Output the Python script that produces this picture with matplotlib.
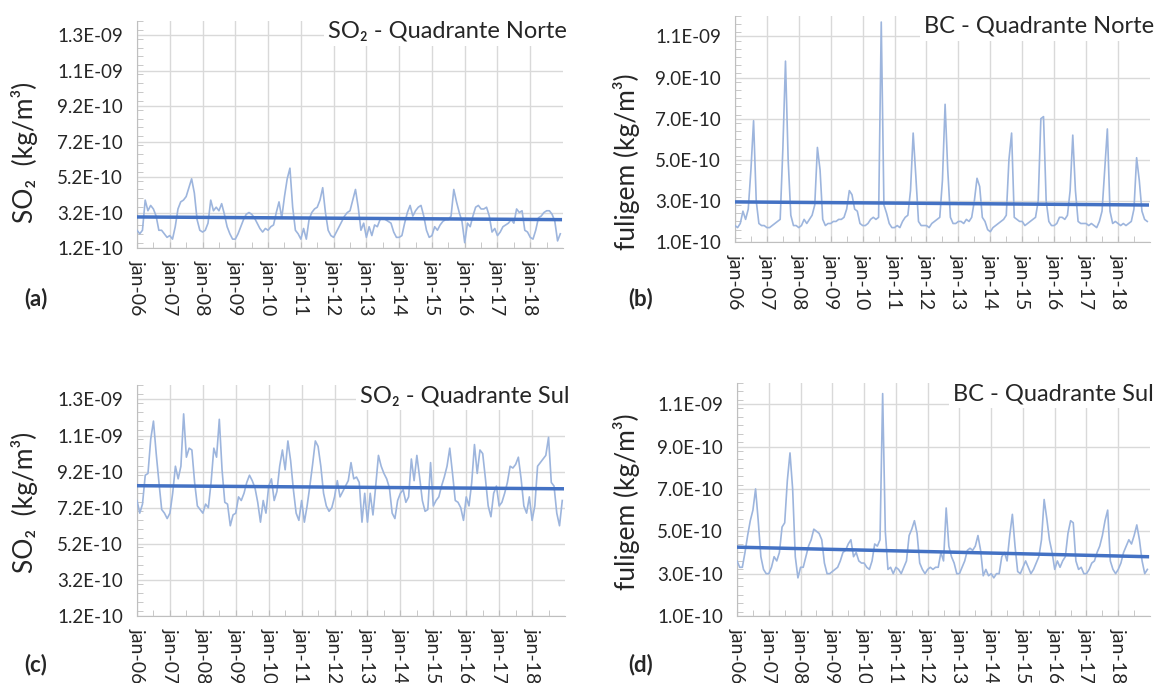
import numpy as np
from matplotlib import pyplot as plt
from matplotlib.ticker import FixedLocator, MultipleLocator, FuncFormatter

plt.rcParams['font.family'] = ['Lato', 'DejaVu Sans']

# monthly values, jan-06 .. dec-18, in units of 1e-10 kg/m3
so2_norte = [
    2.2, 2.0, 2.2, 3.9, 3.3, 3.6, 3.4, 3.0, 2.2, 2.2, 2.0, 1.8,
    1.9, 1.7, 2.4, 3.4, 3.8, 3.9, 4.1, 4.6, 5.1, 4.3, 2.8, 2.2,
    2.1, 2.2, 2.6, 3.9, 3.3, 3.5, 3.3, 3.7, 3.1, 2.4, 2.0, 1.7,
    1.7, 2.0, 2.4, 2.8, 3.1, 3.2, 3.1, 2.9, 2.6, 2.3, 2.1, 2.3,
    2.2, 2.4, 2.5, 3.2, 3.8, 2.9, 4.1, 5.1, 5.7, 3.5, 2.2, 2.0,
    1.7, 2.3, 1.7, 2.8, 3.2, 3.4, 3.5, 3.9, 4.6, 3.2, 2.2, 1.9,
    1.8, 2.1, 2.4, 2.7, 3.0, 3.2, 3.3, 3.9, 4.5, 3.5, 2.2, 2.6,
    1.8, 2.4, 1.9, 2.5, 2.4, 2.8, 2.9, 2.8, 2.7, 2.6, 2.1, 1.8,
    1.8, 1.9, 2.6, 3.2, 3.6, 3.0, 3.3, 3.5, 3.6, 3.0, 2.2, 1.8,
    1.9, 2.4, 2.2, 2.5, 2.7, 2.8, 2.8, 3.0, 4.5, 3.8, 3.2, 2.7,
    1.5, 2.6, 2.4, 3.0, 3.5, 3.6, 3.4, 3.4, 3.5, 3.0, 2.1, 2.3,
    1.9, 2.1, 2.4, 2.5, 2.6, 2.8, 2.6, 3.4, 3.2, 3.3, 2.2, 2.1,
    1.8, 1.7, 2.2, 2.9, 3.0, 3.2, 3.3, 3.3, 3.1, 2.7, 1.6, 2.0,
]
bc_norte = [
    1.8, 1.7, 1.9, 2.5, 2.1, 2.6, 4.5, 6.9, 3.0, 1.9, 1.8, 1.8,
    1.7, 1.7, 1.8, 1.9, 2.0, 2.1, 5.5, 9.8, 5.0, 2.3, 1.8, 1.8,
    1.7, 1.8, 2.1, 1.9, 2.1, 2.3, 2.8, 5.6, 4.5, 2.1, 1.8, 1.9,
    1.9, 2.0, 2.0, 2.1, 2.1, 2.2, 2.6, 3.5, 3.3, 2.6, 2.5, 1.9,
    1.8, 1.8, 1.9, 2.1, 2.2, 2.1, 2.2, 11.7, 2.8, 2.4, 1.9, 1.7,
    1.7, 1.8, 1.7, 2.0, 2.2, 2.3, 3.5, 6.3, 4.2, 2.0, 1.8, 1.8,
    1.8, 1.7, 1.9, 2.0, 2.1, 2.2, 4.0, 7.7, 4.5, 2.2, 1.9, 1.9,
    2.0, 2.0, 1.9, 2.1, 2.0, 2.2, 3.0, 4.1, 3.7, 2.2, 2.0, 1.6,
    1.5, 1.7, 1.8, 1.9, 2.0, 2.1, 2.3, 5.0, 6.3, 2.2, 2.1, 2.0,
    2.0, 1.8, 1.9, 2.0, 2.1, 2.2, 3.0, 7.0, 7.1, 3.0, 2.0, 1.8,
    1.8, 1.9, 2.2, 2.2, 2.1, 2.3, 3.5, 6.2, 3.5, 2.0, 1.9, 1.9,
    1.9, 1.8, 1.9, 1.8, 1.7, 2.0, 2.5, 4.5, 6.5, 2.5, 1.9, 2.0,
    1.9, 1.8, 1.9, 1.8, 1.9, 2.0, 2.6, 5.1, 4.0, 2.5, 2.1, 2.0,
]
so2_sul = [
    7.6, 6.9, 7.4, 9.0, 9.1, 11.0, 12.0, 10.2, 8.6, 7.1, 6.9, 6.6,
    6.9, 8.0, 9.5, 8.8, 9.5, 12.4, 10.0, 10.5, 10.4, 8.6, 7.3, 7.1,
    6.9, 7.4, 7.2, 8.6, 10.5, 10.0, 12.1, 9.3, 7.5, 7.4, 6.2, 6.8,
    6.9, 7.8, 7.6, 8.0, 8.6, 9.0, 8.7, 8.3, 7.5, 6.4, 7.6, 6.9,
    8.4, 8.8, 7.6, 8.1, 9.5, 10.4, 9.3, 10.9, 9.8, 8.2, 6.9, 6.5,
    7.6, 6.4, 7.3, 8.4, 9.6, 10.9, 10.6, 9.5, 8.0, 7.3, 7.0, 7.2,
    7.8, 8.7, 7.8, 8.1, 8.4, 8.7, 9.7, 8.8, 8.9, 8.6, 6.4, 8.0,
    6.4, 8.0, 6.8, 8.4, 10.1, 9.5, 9.1, 8.8, 8.3, 6.9, 6.6, 7.6,
    8.0, 8.2, 7.5, 7.8, 9.9, 8.7, 10.1, 8.9, 7.6, 7.0, 7.1, 9.7,
    7.3, 7.6, 7.8, 8.4, 8.9, 9.5, 10.5, 9.1, 7.6, 7.5, 7.2, 6.5,
    7.8, 7.3, 8.6, 10.7, 9.1, 10.4, 10.2, 8.8, 7.3, 6.7, 8.0, 8.4,
    7.3, 7.5, 8.0, 8.6, 9.5, 9.4, 9.6, 10.0, 8.8, 7.3, 6.9, 7.8,
    6.5, 7.3, 9.5, 9.7, 9.9, 10.1, 11.1, 8.6, 8.4, 6.9, 6.2, 7.6,
]
bc_sul = [
    3.6, 3.3, 3.3, 4.0, 4.8, 5.5, 6.0, 7.0, 5.5, 3.8, 3.2, 3.0,
    3.0, 3.3, 3.8, 3.6, 4.0, 5.2, 5.4, 7.4, 8.7, 7.0, 3.8, 2.8,
    3.3, 3.3, 3.8, 4.3, 4.6, 5.1, 5.0, 4.9, 4.6, 3.5, 3.0, 3.0,
    3.1, 3.2, 3.3, 3.6, 4.0, 4.1, 4.4, 4.6, 3.8, 4.0, 3.6, 3.5,
    3.5, 3.3, 3.2, 3.6, 4.4, 4.3, 4.6, 11.5, 5.0, 3.2, 3.3, 3.0,
    3.3, 3.2, 3.0, 3.3, 3.6, 4.8, 5.1, 5.5, 4.9, 3.5, 3.2, 3.0,
    3.2, 3.3, 3.2, 3.3, 3.3, 4.0, 3.6, 6.1, 4.3, 3.8, 3.5, 3.0,
    3.0, 3.3, 3.6, 4.1, 4.2, 4.1, 4.3, 4.8, 4.1, 2.9, 3.2, 2.9,
    3.0, 2.8, 3.0, 3.0, 3.8, 4.0, 3.6, 4.8, 5.8, 4.3, 3.1, 3.0,
    3.3, 3.6, 3.3, 3.0, 3.2, 3.5, 3.8, 4.6, 6.5, 5.6, 4.6, 4.0,
    3.2, 3.6, 3.3, 3.6, 3.8, 4.9, 5.5, 5.4, 3.6, 3.2, 3.3, 3.0,
    3.0, 3.2, 3.5, 3.6, 4.0, 4.3, 4.8, 5.5, 6.0, 3.6, 3.2, 3.0,
    3.2, 3.5, 4.0, 4.3, 4.6, 4.4, 4.8, 5.3, 4.6, 3.6, 3.0, 3.2,
]

# linear trend lines (start, end), same units
trend_so2_norte = [2.95, 2.80]
trend_bc_norte = [2.95, 2.80]
trend_so2_sul = [8.42, 8.25]
trend_bc_sul = [4.25, 3.80]

year_labels = ['jan-06', 'jan-07', 'jan-08', 'jan-09', 'jan-10', 'jan-11', 'jan-12',
               'jan-13', 'jan-14', 'jan-15', 'jan-16', 'jan-17', 'jan-18']

SCALE = 1e-10
LINE_COLOR = '#9DB5DD'
TREND_COLOR = '#4472C4'
GRID_COLOR = '#D9D9D9'
TEXT_COLOR = '#262626'


def sci_label(v, pos):
    return f'{v:.1E}'


def draw_panel(ax, values, trend, ymin, ymax, minor, title):
    values = np.array(values) * SCALE
    months = np.arange(len(values))
    ax.plot(months, values, color=LINE_COLOR, lw=1.2, zorder=3)
    ax.plot([months[0], months[-1]], np.array(trend) * SCALE, color=TREND_COLOR, lw=2.5, zorder=4)

    ax.set_xlim(0, len(values))
    ax.set_ylim(ymin, ymax)
    ax.xaxis.set_major_locator(FixedLocator(np.arange(0, len(values), 12)))
    ax.xaxis.set_minor_locator(FixedLocator(np.arange(6, len(values), 12)))
    ax.set_xticklabels(year_labels, rotation=270, fontsize=14, color=TEXT_COLOR)

    ax.yaxis.set_major_locator(FixedLocator(np.arange(ymin, ymax, 2 * SCALE)))
    ax.yaxis.set_minor_locator(MultipleLocator(minor))
    ax.yaxis.set_major_formatter(FuncFormatter(sci_label))
    ax.tick_params(axis='y', labelsize=13.5, labelcolor=TEXT_COLOR, length=0, pad=10)
    ax.tick_params(axis='x', direction='in', length=4, color='#BFBFBF', pad=9)
    ax.tick_params(which='minor', direction='in', length=4, color='#BFBFBF')

    ax.grid(True, color=GRID_COLOR, lw=1)
    ax.set_axisbelow(True)
    for side in ['top', 'right']:
        ax.spines[side].set_visible(False)
    for side in ['left', 'bottom']:
        ax.spines[side].set_color('#BFBFBF')

    ax.text(1.01, 1.0, title, transform=ax.transAxes, ha='right', va='top', fontsize=17,
            color=TEXT_COLOR, bbox=dict(facecolor='white', edgecolor='none', pad=3), zorder=6)
    return ax


fig = plt.figure(figsize=(11.64, 6.83), dpi=100)

ax_a = fig.add_axes([0.1177, 0.6369, 0.366, 0.3324])
draw_panel(ax_a, so2_norte, trend_so2_norte, 1.2e-10, 1.4e-9, 0.5e-10, 'SO₂ - Quadrante Norte')
ax_b = fig.add_axes([0.6314, 0.6457, 0.3565, 0.331])
draw_panel(ax_b, bc_norte, trend_bc_norte, 1.0e-10, 1.2e-9, 0.4e-10, 'BC - Quadrante Norte')
ax_c = fig.add_axes([0.1177, 0.0981, 0.3677, 0.3382])
draw_panel(ax_c, so2_sul, trend_so2_sul, 1.2e-10, 1.4e-9, 0.5e-10, 'SO₂ - Quadrante Sul')
ax_d = fig.add_axes([0.6332, 0.0981, 0.3548, 0.3411])
draw_panel(ax_d, bc_sul, trend_bc_sul, 1.0e-10, 1.2e-9, 0.4e-10, 'BC - Quadrante Sul')

# y labels and panel letters
W, H = 1164, 683
ylabel_kw = dict(rotation=90, ha='center', va='center', fontsize=19, color=TEXT_COLOR)
fig.text(24 / W, 1 - 152 / H, 'SO₂  (kg/m³)', **ylabel_kw)
fig.text(626 / W, 1 - 162 / H, 'fuligem (kg/m³)', **ylabel_kw)
fig.text(24 / W, 1 - 502 / H, 'SO₂  (kg/m³)', **ylabel_kw)
fig.text(626 / W, 1 - 502 / H, 'fuligem (kg/m³)', **ylabel_kw)

letter_kw = dict(ha='center', va='center', fontsize=16, fontweight='bold', color=TEXT_COLOR)
fig.text(36 / W, 1 - 299 / H, '(a)', **letter_kw)
fig.text(641 / W, 1 - 299 / H, '(b)', **letter_kw)
fig.text(36 / W, 1 - 665 / H, '(c)', **letter_kw)
fig.text(641 / W, 1 - 665 / H, '(d)', **letter_kw)

fig.savefig('out.png', dpi=100, facecolor='white')
